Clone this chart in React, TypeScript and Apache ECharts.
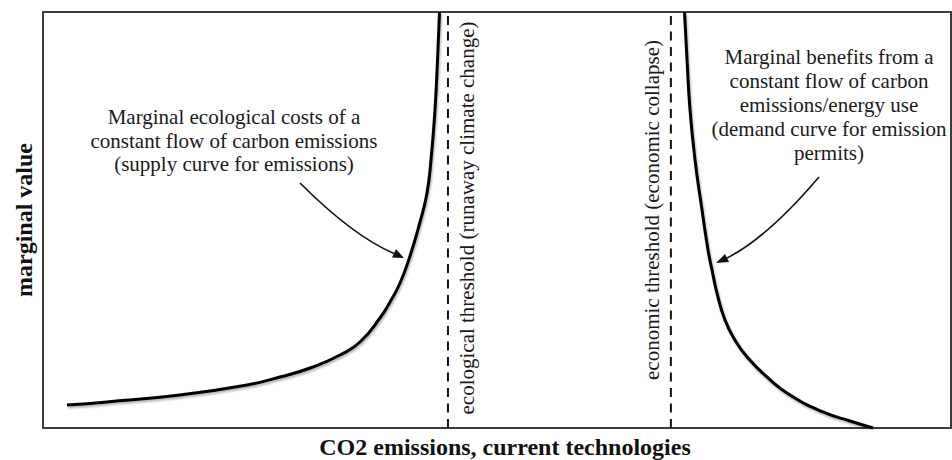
import React, { useEffect, useRef } from "react";
import * as echarts from "echarts";

// Supply curve (marginal ecological costs)
const supplyX = [2.64, 7.05, 15.09, 22.47, 26.1, 29.74, 32.71, 34.91, 37.11, 38.22, 39.32, 40.42, 41.52, 42.29, 42.73, 43.17, 43.45, 43.67];
const supplyY = [5.53, 6.25, 7.93, 10.34, 12.26, 14.66, 17.55, 20.67, 26.44, 30.29, 34.86, 41.35, 49.52, 56.49, 64.42, 76.44, 88.46, 100];
// Demand curve (marginal benefits)
const demandX = [70.65, 70.93, 71.26, 71.81, 72.58, 73.24, 73.68, 74.23, 75.11, 76.21, 77.64, 79.85, 82.27, 85.9, 88.88, 91.41];
const demandY = [100, 88.46, 76.44, 64.42, 52.4, 42.79, 37.98, 32.45, 25.96, 21.15, 16.83, 12.02, 7.93, 3.85, 1.68, 0];
// Thresholds
const ecoThreshold = 44.6;
const econThreshold = 69.15;

const supplyLabel = "Marginal ecological costs of a\nconstant flow of carbon emissions\n(supply curve for emissions)";
const demandLabel = "Marginal benefits from a\nconstant flow of carbon\nemissions/energy use\n(demand curve for emission\npermits)";
const ecoLabel = "ecological threshold (runaway climate change)";
const econLabel = "economic threshold (economic collapse)";
const xTitle = "CO2 emissions, current technologies";
const yTitle = "marginal value";

const SERIF = '"Liberation Serif", "Times New Roman", Times, serif';

export default function App() {
  const ref = useRef<HTMLDivElement>(null);
  useEffect(() => {
    if (!ref.current) return;
    const chart = echarts.init(ref.current, undefined, { renderer: "svg" });
    const curveStyle = {
      color: "#000",
      width: 3,
      shadowColor: "rgba(0,0,0,0.3)",
      shadowBlur: 2,
      shadowOffsetX: 1,
      shadowOffsetY: 2,
    };
    const dashStyle = { color: "#111", width: 2, type: [9, 6.5] as any };
    chart.setOption({
      animation: false,
      grid: {
        left: 43,
        top: 12,
        width: 908,
        height: 416,
        show: true,
        borderColor: "#3c3c3c",
        borderWidth: 2,
        backgroundColor: "transparent",
      },
      xAxis: { type: "value", min: 0, max: 100, show: false },
      yAxis: { type: "value", min: 0, max: 100, show: false },
      series: [
        {
          type: "line",
          data: supplyX.map((x, i) => [x, supplyY[i]]),
          smooth: 0.5,
          showSymbol: false,
          lineStyle: curveStyle,
          clip: true,
        },
        {
          type: "line",
          data: demandX.map((x, i) => [x, demandY[i]]),
          smooth: 0.5,
          showSymbol: false,
          lineStyle: curveStyle,
          clip: true,
        },
        {
          type: "line",
          data: [[ecoThreshold, 0], [ecoThreshold, 100]],
          showSymbol: false,
          lineStyle: dashStyle,
        },
        {
          type: "line",
          data: [[econThreshold, 0], [econThreshold, 100]],
          showSymbol: false,
          lineStyle: dashStyle,
        },
      ],
      graphic: [
        {
          type: "text",
          x: 234,
          y: 140.5,
          style: { text: supplyLabel, font: `21px ${SERIF}`, fill: "#1a1a1a", align: "center", verticalAlign: "middle", lineHeight: 23.5 },
        },
        {
          type: "text",
          x: 829,
          y: 105,
          style: { text: demandLabel, font: `21px ${SERIF}`, fill: "#1a1a1a", align: "center", verticalAlign: "middle", lineHeight: 24 },
        },
        {
          type: "text",
          x: 467,
          y: 218,
          rotation: Math.PI / 2,
          style: { text: ecoLabel, font: `21px ${SERIF}`, fill: "#1a1a1a", align: "center", verticalAlign: "middle" },
        },
        {
          type: "text",
          x: 652,
          y: 210,
          rotation: Math.PI / 2,
          style: { text: econLabel, font: `21px ${SERIF}`, fill: "#1a1a1a", align: "center", verticalAlign: "middle" },
        },
        {
          type: "text",
          x: 24,
          y: 220,
          rotation: Math.PI / 2,
          style: { text: yTitle, font: `bold 24px ${SERIF}`, fill: "#111", align: "center", verticalAlign: "middle" },
        },
        {
          type: "text",
          x: 505,
          y: 447,
          style: { text: xTitle, font: `bold 24px ${SERIF}`, fill: "#111", align: "center", verticalAlign: "middle" },
        },
        {
          type: "bezierCurve",
          shape: { x1: 300, y1: 183, cpx1: 353, cpy1: 236, x2: 394, y2: 253.5 },
          style: { stroke: "#111", lineWidth: 1.6, fill: null },
        },
        {
          type: "polygon",
          shape: { points: [[404, 258], [392, 257.5], [396, 249]] },
          style: { fill: "#111" },
        },
        {
          type: "bezierCurve",
          shape: { x1: 819, y1: 177, cpx1: 767, cpy1: 238, x2: 727, y2: 258 },
          style: { stroke: "#111", lineWidth: 1.6, fill: null },
        },
        {
          type: "polygon",
          shape: { points: [[716, 263], [729, 262], [725, 254]] },
          style: { fill: "#111" },
        },
      ],
    });
    return () => chart.dispose();
  }, []);
  return (
    <div
      ref={ref}
      style={{ position: "fixed", left: 0, top: 0, width: 952, height: 460, background: "#fff" }}
    />
  );
}
